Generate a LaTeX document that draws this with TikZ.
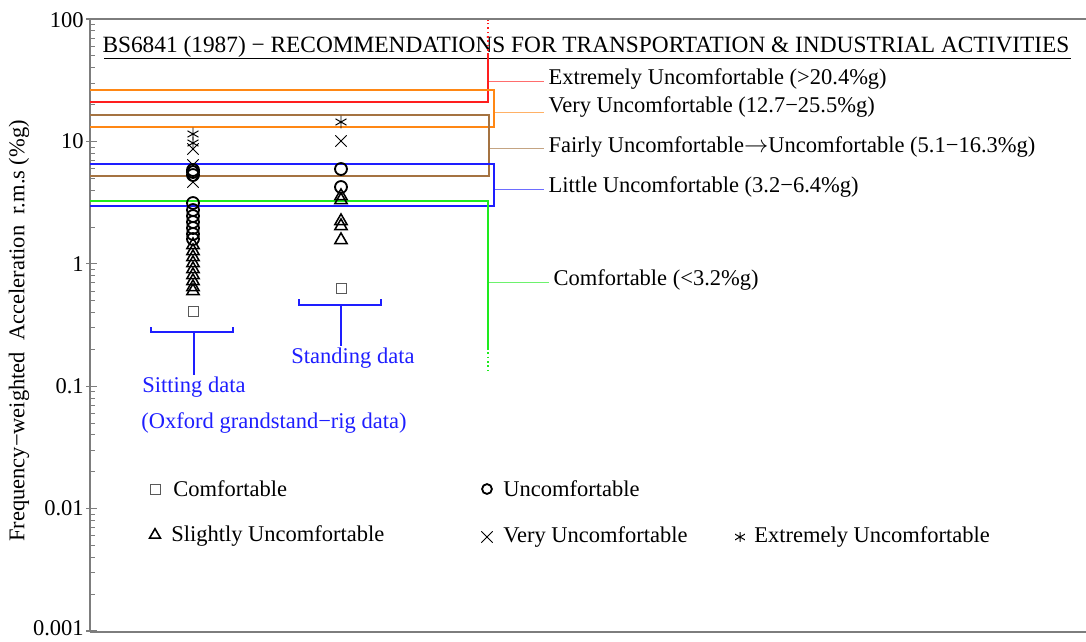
\documentclass[tikz,border=0pt]{standalone}
\usepackage{fontspec}
\setmainfont{Liberation Serif}
\usetikzlibrary{positioning,shapes.geometric,shapes.misc}
\definecolor{zred}{RGB}{255,30,30}
\definecolor{zorange}{RGB}{255,135,20}
\definecolor{zbrown}{RGB}{165,115,65}
\definecolor{zblue}{RGB}{30,30,255}
\definecolor{zgreen}{RGB}{30,235,30}
\definecolor{axisgrey}{RGB}{125,125,125}
\tikzset{
    chart/.style={
        x=0.025cm,y=-0.025cm,
        font=\fontsize{16}{19}\selectfont,
        frame/.append style={draw=axisgrey,line width=0.8pt},
        ticklabel/.append style={anchor=east,inner sep=0pt},
        band/.append style={line width=1.1pt},
        lead/.append style={line width=0.6pt,opacity=0.65},
        zonelabel/.append style={anchor=west,inner sep=3pt},
        bracket/.append style={draw=zblue,line width=0.9pt},
        grouplabel/.append style={text=zblue,inner sep=1pt},
        sq/.append style={draw=black!65,rectangle,minimum size=7pt,inner sep=0pt,line width=0.6pt},
        circ/.append style={draw,circle,minimum size=8.5pt,inner sep=0pt,line width=1.3pt},
        tri/.append style={draw,regular polygon,regular polygon sides=3,minimum size=10pt,inner sep=0pt,line width=1.1pt},
        crs/.append style={draw,cross out,minimum size=7.5pt,inner sep=0pt,line width=0.6pt},
        ast/.append style={rectangle,minimum size=10pt,inner sep=0pt,
            path picture={\draw[line width=0.7pt] (path picture bounding box.center)
                +(90:4.5pt) -- +(270:4.5pt) +(30:4.5pt) -- +(210:4.5pt) +(150:4.5pt) -- +(330:4.5pt);}},
        keytext/.append style={anchor=west,inner sep=0pt}
    }
}

\begin{document}
\begin{tikzpicture}[chart]
    \useasboundingbox (0,0) rectangle (1086,641);

    % axes and log ticks
    \draw[frame] (90,632) -- (90,19) -- (1086,19);
    \draw[frame] (90,632) -- (1086,632);
    \foreach \d/\lbl/\dy in {0/100/1,1/10/0,2/1/0,3/0.1/0,4/0.01/0,5/0.001/-3}{
        \draw[frame] (86,19+122.4*\d) -- (97,19+122.4*\d);
        \node[ticklabel] (tick\d) at (84,19+122.4*\d+\dy) {\lbl};
    }
    \foreach \d in {0,...,4}
        \foreach \m in {2,...,9}
            \draw[frame,line width=0.6pt] (90,{19+122.4*(\d+1-log10(\m))}) -- ++(5,0);
    \node[rotate=90] (ylabel) at (19,331) {Frequency−weighted\ \ Acceleration\ \ r.m.s (\%g)};

    \node[font=\fontsize{16.6}{19}\selectfont] (title) at (586,47) {BS6841 (1987) − RECOMMENDATIONS FOR TRANSPORTATION \& INDUSTRIAL ACTIVITIES};
    \draw[line width=0.6pt] (104,58) -- (1071,58);

    % comfort bands
    \draw[band,zred] (90,102) -- (488,102) -- (488,55) coordinate (red-top);
    \draw[band,zred,dotted] (red-top) -- (488,20);
    \draw[band,zorange] (90,90) -| (494,127) -- (90,127);
    \draw[band,zbrown] (90,115) -| (489,176) -- (90,176);
    \draw[band,zblue] (90,164) -| (494,206) -- (90,206);
    \draw[band,zgreen] (90,201) -- (488,201) -- (488,348) coordinate (green-end);
    \draw[band,zgreen,dotted] (green-end) -- (488,374);

    \coordinate (c-ext) at (488,81);
    \coordinate (c-very) at (494,112);
    \coordinate (c-fair) at (489,148);
    \coordinate (c-little) at (494,189);
    \coordinate (c-comf) at (488,282);
    \node[zonelabel] (l-ext) at (544,79) {Extremely Uncomfortable (>20.4\%g)};
    \node[zonelabel] (l-very) at (544,107) {Very Uncomfortable (12.7−25.5\%g)};
    \node[zonelabel] (l-fair) at (544,147) {Fairly Uncomfortable$\rightarrow$Uncomfortable (5.1−16.3\%g)};
    \node[zonelabel] (l-little) at (544,187) {Little Uncomfortable (3.2−6.4\%g)};
    \node[zonelabel] (l-comf) at (549,280) {Comfortable (<3.2\%g)};
    \draw[lead,zred] (c-ext) -- (c-ext -| l-ext.west);
    \draw[lead,zorange] (c-very) -- (c-very -| l-very.west);
    \draw[lead,zbrown] (c-fair) -- (c-fair -| l-fair.west);
    \draw[lead,zblue] (c-little) -- (c-little -| l-little.west);
    \draw[lead,zgreen] (c-comf) -- (c-comf -| l-comf.west);

    % sitting data
    \foreach \y in {134,143} \node[ast] (sit-a\y) at (193,\y) {};
    \foreach \y in {149,165,182} \node[crs] (sit-x\y) at (193,\y) {};
    \foreach \y in {170,172,175,203,210,216,222,228,234,239} \node[circ] (sit-o\y) at (193,\y) {};
    \foreach \y in {245,251,257,263,269,275,281,287,291} \node[tri] (sit-t\y) at (193,\y) {};
    \node[sq] (sit-s) at (193,311) {};

    % standing data
    \node[ast] (std-a) at (341,122) {};
    \node[crs] (std-x) at (341,141) {};
    \foreach \y in {169,187} \node[circ] (std-o\y) at (341,\y) {};
    \foreach \y in {196,200,221,226,240} \node[tri] (std-t\y) at (341,\y) {};
    \node[sq] (std-s) at (341,288) {};

    % group brackets
    \draw[bracket] (151,327) -- (151,332) -- (233,332) -- (233,327);
    \coordinate (sit-mid) at (194,332);
    \node[grouplabel] (sit-lbl) at (194,387) {Sitting data};
    \node[grouplabel] (oxf-lbl) at (274,423) {(Oxford grandstand−rig data)};
    \draw[bracket] (sit-mid) -- (sit-mid |- sit-lbl.north);
    \draw[bracket] (299,299) -- (299,305) -- (381,305) -- (381,299);
    \coordinate (std-mid) at (341,305);
    \node[grouplabel] (std-lbl) at (353,358) {Standing data};
    \draw[bracket] (std-mid) -- (std-mid |- std-lbl.north);

    % key
    \node[sq] (k-sq) at (155,489) {};
    \node[keytext] (k-sq-t) at (173,489) {Comfortable};
    \node[circ,minimum size=7pt] (k-o) at (487,489) {};
    \node[keytext] (k-o-t) at (503,489) {Uncomfortable};
    \node[tri,minimum size=9pt] (k-tri) at (155,535) {};
    \node[keytext] (k-tri-t) at (171,536) {Slightly Uncomfortable};
    \node[crs] (k-x) at (487,537) {};
    \node[keytext] (k-x-t) at (503,537) {Very Uncomfortable};
    \node[ast,minimum size=7pt] (k-a) at (740,537) {};
    \node[keytext] (k-a-t) at (754,537) {Extremely Uncomfortable};
\end{tikzpicture}
\end{document}
